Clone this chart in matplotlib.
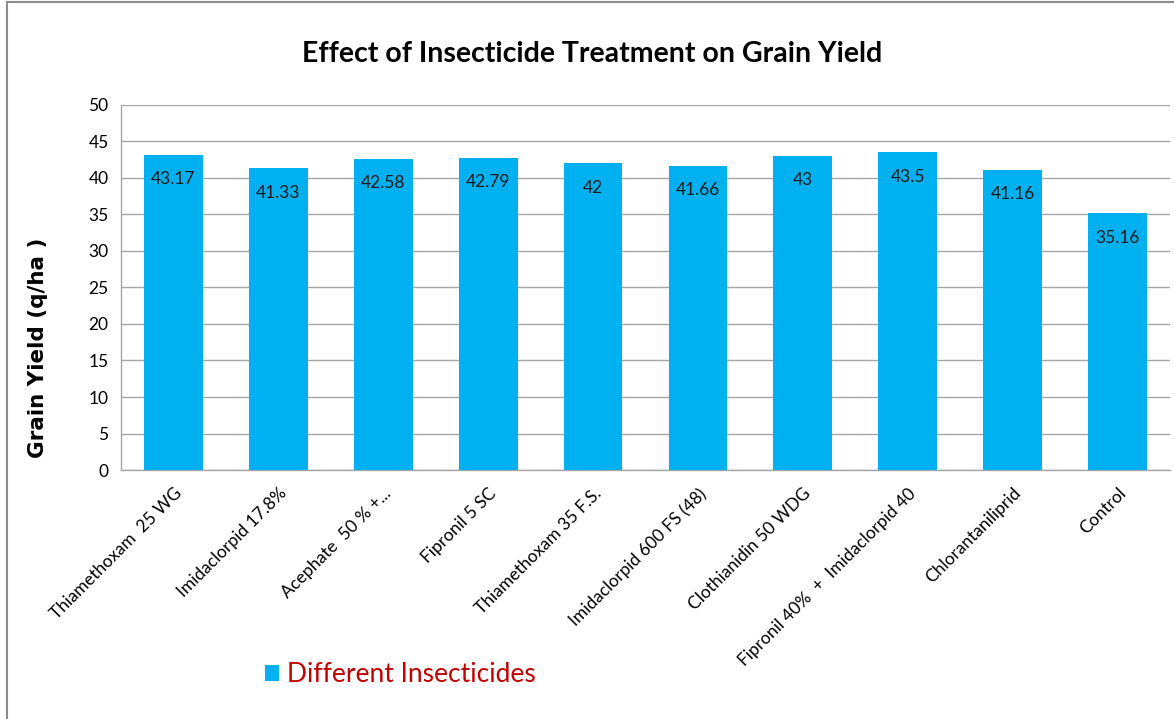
import matplotlib
matplotlib.use("Agg")
import matplotlib.pyplot as plt
from matplotlib.patches import Rectangle

# data
treatments = [
    "Thiamethoxam  25 WG",
    "Imidaclorpid 17.8%",
    "Acephate  50 % +...",
    "Fipronil 5 SC",
    "Thiamethoxam 35 F.S.",
    "Imidaclorpid 600 FS (48)",
    "Clothianidin 50 WDG",
    "Fipronil 40%  +  Imidaclorpid 40",
    "Chlorantaniliprid",
    "Control",
]
grain_yield = [43.17, 41.33, 42.58, 42.79, 42, 41.66, 43, 43.5, 41.16, 35.16]
value_labels = ["43.17", "41.33", "42.58", "42.79", "42", "41.66", "43", "43.5", "41.16", "35.16"]
y_ticks = [0, 5, 10, 15, 20, 25, 30, 35, 40, 45, 50]

bar_color = "#00B0F0"
grid_color = "#A6A6A6"
body_font = ["Lato", "DejaVu Sans"]

fig = plt.figure(figsize=(11.74, 7.19), dpi=100)
ax = fig.add_axes([0.1031, 0.3463, 0.8935, 0.5077])

x = list(range(len(treatments)))
bars = ax.bar(x, grain_yield, width=0.56, color=bar_color, zorder=3,
              label="Different Insecticides")

for xi, val, lab in zip(x, grain_yield, value_labels):
    ax.annotate(lab, (xi, val), xytext=(0, -17.5), textcoords="offset points",
                ha="center", va="center", fontsize=12.5, family=body_font,
                color="#1a1a1a", zorder=4)

ax.set_xlim(-0.5, len(treatments) - 0.5)
ax.set_ylim(0, 50)
ax.set_yticks(y_ticks)
ax.set_yticklabels([str(t) for t in y_ticks], family=body_font, fontsize=12.5)
ax.set_xticks(x)
ax.set_xticklabels(treatments, rotation=45, ha="right", rotation_mode="anchor",
                   family=body_font, fontsize=12.5)
ax.tick_params(axis="y", length=0, pad=9)
ax.tick_params(axis="x", length=0, pad=11)

ax.grid(axis="y", color=grid_color, lw=1, zorder=0)
for side in ["top", "right"]:
    ax.spines[side].set_visible(False)
for side in ["left", "bottom"]:
    ax.spines[side].set_color(grid_color)
    ax.spines[side].set_linewidth(1)

ax.set_ylabel("Grain Yield (q/ha )", fontsize=15.5, fontweight="bold",
              family=["DejaVu Sans"])
ax.yaxis.set_label_coords(-0.070, 0.334)

fig.text(0.504, 0.925, "Effect of Insecticide Treatment on Grain Yield",
         ha="center", va="center", fontsize=20.5, fontweight="bold",
         family=["Lato", "DejaVu Sans"])

leg = fig.legend(handles=[bars], loc="center", bbox_to_anchor=(0.341, 0.062),
                 frameon=False, handlelength=0.55, handleheight=0.55,
                 handletextpad=0.3, prop={"family": body_font, "size": 19})
for t in leg.get_texts():
    t.set_color("#C00000")

# outer chart frame
fig.patches.append(Rectangle((0.006, -0.01), 1.0, 1.007, transform=fig.transFigure,
                             fill=False, edgecolor="#8C8C8C", lw=1.5))

fig.savefig("out.png", dpi=100)
